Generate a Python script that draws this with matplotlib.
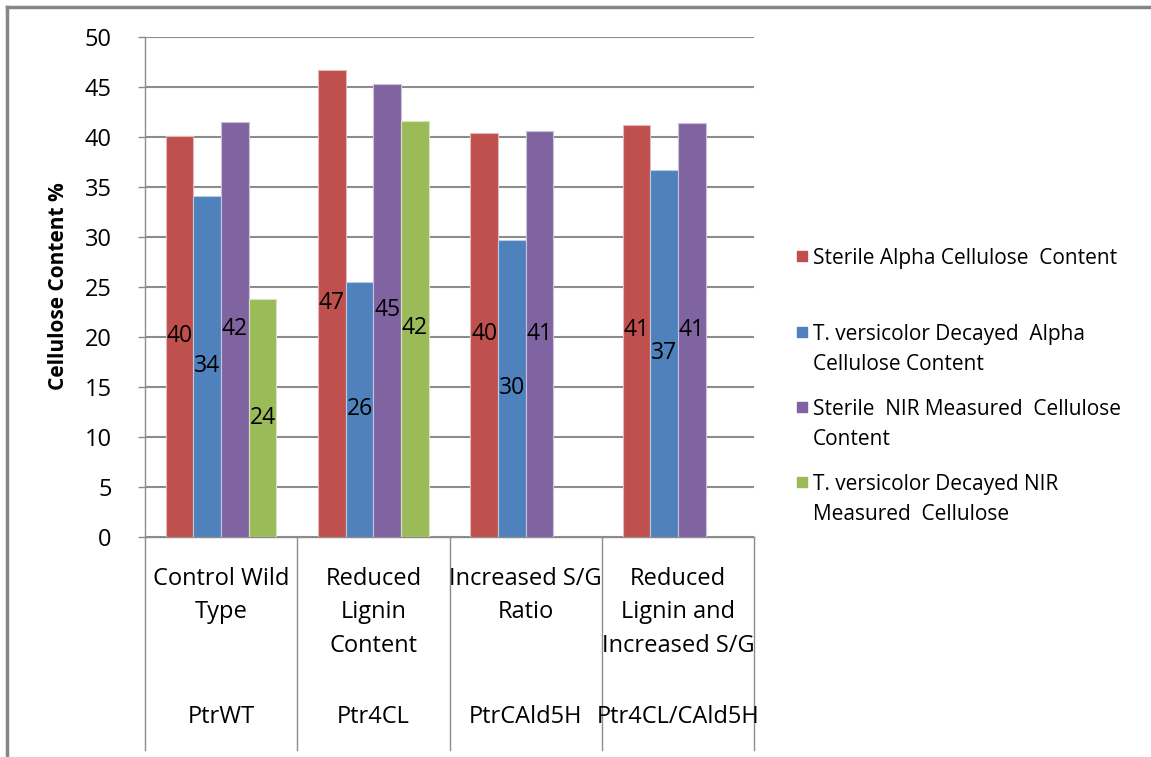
import numpy as np
import matplotlib
matplotlib.use('Agg')
import matplotlib.pyplot as plt
from matplotlib.lines import Line2D
from matplotlib.patches import Rectangle

plt.rcParams['font.family'] = ['Open Sans', 'DejaVu Sans']

groups = ['Control Wild\nType', 'Reduced\nLignin\nContent', 'Increased S/G\nRatio',
          'Reduced\nLignin and\nIncreased S/G']
lines = ['PtrWT', 'Ptr4CL', 'PtrCAld5H', 'Ptr4CL/CAld5H']

series_names = ['Sterile Alpha Cellulose  Content',
                'T. versicolor Decayed  Alpha\nCellulose Content',
                'Sterile  NIR Measured  Cellulose\nContent',
                'T. versicolor Decayed NIR\nMeasured  Cellulose']
sterile_alpha = [40.1, 46.7, 40.4, 41.2]
decayed_alpha = [34.1, 25.5, 29.65, 36.7]
sterile_nir = [41.5, 45.3, 40.6, 41.35]
decayed_nir = [23.8, 41.6, np.nan, np.nan]

colors = ['#C0504D', '#4F81BD', '#8064A2', '#9BBB59']
edge_colors = ['#E6B9B8', '#B9CDE5', '#CCC1DA', '#D7E4BD']

W, H = 1151, 757
fig = plt.figure(figsize=(W / 100, H / 100), dpi=100)
x0, x1, ytop, ybot = 145, 754, 36.5, 536.5
ax = fig.add_axes([x0 / W, 1 - ybot / H, (x1 - x0) / W, (ybot - ytop) / H])

# outer chart frame (only left and top visible)
fig.add_artist(Line2D([7 / W, 7 / W], [0, 1 - 7 / H], color='#868686', lw=2.5))
fig.add_artist(Line2D([7 / W, 1], [1 - 7 / H, 1 - 7 / H], color='#868686', lw=2.5))

all_series = [sterile_alpha, decayed_alpha, sterile_nir, decayed_nir]
x = np.arange(len(groups))
bw = 1 / 5.5
for i, vals in enumerate(all_series):
    pos = x + (i - 1.5) * bw
    ax.bar(pos, vals, width=bw, color=colors[i], edgecolor=edge_colors[i],
           linewidth=0.8, zorder=3)
    for px, v in zip(pos, vals):
        if np.isnan(v):
            continue
        ax.text(px, v / 2, f'{v:.0f}', ha='center', va='center', fontsize=16.5,
                color='black', zorder=4)

ax.set_xlim(-0.5, len(groups) - 0.5)
ax.set_ylim(0, 50)
ax.set_yticks(np.arange(0, 51, 5))
ax.grid(axis='y', color='#8C8C8C', linewidth=1.5, zorder=0)
ax.set_axisbelow(True)
for s in ['top', 'right']:
    ax.spines[s].set_visible(False)
ax.spines['left'].set_color('#8C8C8C')
ax.spines['bottom'].set_color('#8C8C8C')
ax.spines['left'].set_linewidth(1.0)
ax.spines['bottom'].set_linewidth(1.0)
ax.tick_params(axis='y', length=5, width=1, color='#8C8C8C', pad=19, labelsize=17)
ax.set_xticks([])
ax.set_ylabel('Cellulose Content %', fontsize=15, fontweight='bold')
ax.yaxis.set_label_coords((69 - x0) / (x1 - x0), 0.5)

# multi-level category axis
trans = ax.get_xaxis_transform()
ylow = -(750 - ybot) / (ybot - ytop)
for b in np.arange(len(groups) + 1) - 0.5:
    ax.add_artist(Line2D([b, b], [0, ylow], transform=trans, color='#8C8C8C',
                         lw=1.0, clip_on=False))
for xi, g, ln in zip(x, groups, lines):
    ax.text(xi, -(567 - ybot) / (ybot - ytop), g, transform=trans, ha='center',
            va='top', fontsize=17, linespacing=1.52)
    ax.text(xi, -(717 - ybot) / (ybot - ytop), ln, transform=trans, ha='center',
            va='center', fontsize=17)

# legend
leg_y = [256, 332, 407, 482]
for name, c, yy in zip(series_names, colors, leg_y):
    fig.add_artist(Rectangle((797 / W, 1 - (yy + 5) / H), 10 / W, 10 / H,
                             color=c, transform=fig.transFigure))
    fig.text(813 / W, 1 - (yy - 8) / H, name, ha='left', va='top',
             fontsize=15, linespacing=1.55)

fig.savefig('out.png', dpi=100)
